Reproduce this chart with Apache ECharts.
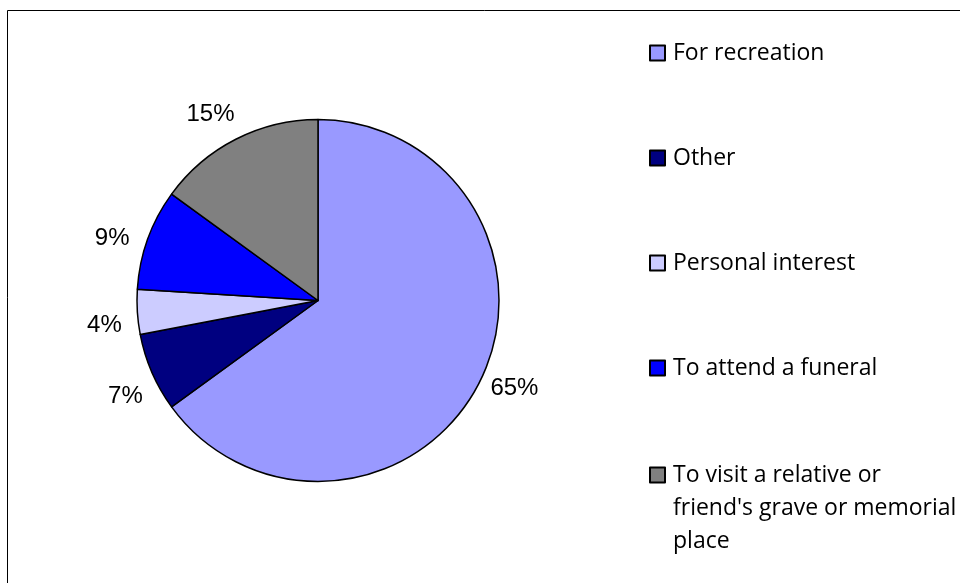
<!DOCTYPE html>
<html>
<head>
<meta charset="utf-8">
<script src="https://cdn.jsdelivr.net/npm/echarts@6/dist/echarts.min.js"></script>
<style>
  html, body { margin: 0; padding: 0; background: #fff; }
  #chart { width: 960px; height: 583px; }
</style>
</head>
<body>
<div id="chart"></div>
<script>
// reasons for visiting
const categories = [
  "For recreation",
  "Other",
  "Personal interest",
  "To attend a funeral",
  "To visit a relative or friend's grave or memorial place",
];
const values = [65, 7, 4, 9, 15];
const colors = ["#9999FF", "#000080", "#CCCCFF", "#0000FF", "#808080"];

// legend text, the long one wraps over three lines
const legendText = {
  "To visit a relative or friend's grave or memorial place":
    "\n\nTo visit a relative or\nfriend's grave or memorial\nplace",
};
const legendTops = [36.5, 141.5, 246.5, 351.5, 392.5];

const chart = echarts.init(document.getElementById("chart"));

const pieData = categories.map((name, i) => ({
  name: name,
  value: values[i],
  itemStyle: { color: colors[i] },
}));

const option = {
  animation: false,
  backgroundColor: "#fff",
  graphic: [
    {
      type: "rect",
      shape: { x: 7.5, y: 10.5, width: 1000, height: 1000 },
      style: { fill: "none", stroke: "#000", lineWidth: 1 },
      silent: true,
    },
  ],
  legend: categories.map((name, i) => ({
    orient: "vertical",
    left: 649,
    top: legendTops[i],
    padding: 0,
    icon: "rect",
    itemWidth: 15,
    itemHeight: 15,
    data: [name],
    formatter: (n) => legendText[n] || n,
    textStyle: {
      fontFamily: "Open Sans",
      fontSize: 23,
      color: "#000",
      lineHeight: 33,
      padding: [0, 0, 0, 3],
    },
  })),
  series: [
    {
      name: "main",
      type: "pie",
      center: [318, 300.5],
      radius: 181,
      startAngle: 90,
      clockwise: true,
      label: { show: false },
      labelLine: { show: false },
      itemStyle: { borderColor: "#000", borderWidth: 1.5 },
      emphasis: { disabled: true },
      data: pieData,
    },
    {
      // invisible ring, only carries the % labels around the pie
      name: "labels",
      type: "pie",
      center: [318, 300.5],
      radius: [181, 243],
      startAngle: 93,
      clockwise: true,
      silent: true,
      itemStyle: { color: "transparent", borderWidth: 0 },
      label: {
        show: true,
        position: "inside",
        formatter: "{c}%",
        fontFamily: "Liberation Sans",
        fontSize: 24,
        color: "#000",
      },
      labelLine: { show: false },
      emphasis: { disabled: true },
      data: categories.map((name, i) => ({ name: name, value: values[i] })),
    },
  ],
};

chart.setOption(option);
</script>
</body>
</html>
